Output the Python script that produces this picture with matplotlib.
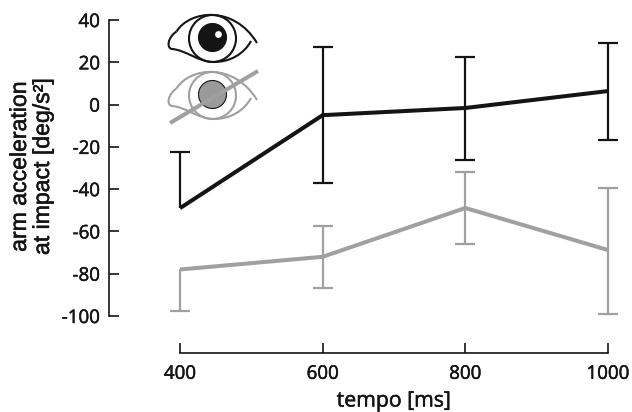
import numpy as np
import matplotlib
matplotlib.use("Agg")
import matplotlib.pyplot as plt
import matplotlib.patheffects as pe
from matplotlib.patches import Circle, Ellipse, PathPatch
from matplotlib.path import Path

plt.rcParams["font.family"] = ["Open Sans", "DejaVu Sans"]
plt.rcParams["axes.unicode_minus"] = False

tempo = [400, 600, 800, 1000]
yticks = [-100, -80, -60, -40, -20, 0, 20, 40]

black_mean = [-49, -5, -1.6, 6.4]
black_top = [-22.4, 27.3, 22.3, 29.3]
black_bottom = [np.nan, -37, -26, -16.8]

grey_mean = [-78, -72, -48.9, -68.8]
grey_top = [np.nan, -57.4, -31.9, -39.5]
grey_bottom = [-97.5, -86.8, -66, -99]

BLACK = "#141414"
GREY = "#a0a0a0"
W, H = 632, 412
# the reference text is a little heavier than the regular weights here
HEAVY = [pe.withStroke(linewidth=0.35, foreground=BLACK)]


def draw_series(ax, mean, top, bottom, color):
    mean, top, bottom = map(np.array, (mean, top, bottom))
    x = np.array(tempo)
    ax.vlines(x, np.where(np.isnan(bottom), mean, bottom), np.where(np.isnan(top), mean, top),
              color=color, linewidth=1.6, clip_on=False)
    ax.plot(x, top, "_", color=color, markersize=14, markeredgewidth=1.6, clip_on=False)
    ax.plot(x, bottom, "_", color=color, markersize=14, markeredgewidth=1.6, clip_on=False)
    ax.plot(x, mean, color=color, linewidth=2.9, solid_capstyle="butt", clip_on=False)


def draw_eye(ov, dy, color, iris_fill):
    # outline coordinates are in image pixels
    lw = 1.5
    ov.add_patch(PathPatch(Path(
        [(176.5, 31.5 + dy), (190, 10 + dy), (234, 5 + dy), (257, 43 + dy)],
        [Path.MOVETO, Path.CURVE4, Path.CURVE4, Path.CURVE4]),
        fill=False, edgecolor=color, linewidth=lw))
    ov.add_patch(PathPatch(Path(
        [(176.5, 31.5 + dy), (168, 37 + dy), (166, 48 + dy), (172, 49 + dy), (186, 50 + dy), (198, 62 + dy),
         (214, 62 + dy), (230, 62 + dy), (244, 54 + dy), (251, 41 + dy)],
        [Path.MOVETO, Path.CURVE4, Path.CURVE4, Path.CURVE4, Path.CURVE4, Path.CURVE4, Path.CURVE4,
         Path.CURVE4, Path.CURVE4, Path.CURVE4]),
        fill=False, edgecolor=color, linewidth=lw))
    ov.add_patch(Ellipse((212.5, 38.5 + dy), 47, 47, fill=False, edgecolor=color, linewidth=lw))
    ov.add_patch(Circle((212.5, 37.5 + dy), 14, facecolor=iris_fill, edgecolor=BLACK, linewidth=0.8))


fig = plt.figure(figsize=(W / 100, H / 100), dpi=100)

# axes placed so the spines land where the reference has them
left, right, bottom_px, top_px = 109, 625, 353, 10
ax = fig.add_axes([left / W, 1 - bottom_px / H, (right - left) / W, (bottom_px - top_px) / H])
ax.set_xlim(400 + (left - 180) / 0.7133, 400 + (right - 180) / 0.7133)
ax.set_ylim((104.6 - bottom_px) / 2.114, (104.6 - top_px) / 2.114)

draw_series(ax, grey_mean, grey_top, grey_bottom, GREY)
draw_series(ax, black_mean, black_top, black_bottom, BLACK)

ax.set_xticks(tempo)
ax.set_yticks(yticks)
ax.tick_params(axis="both", direction="in", length=7.2, width=1.2, color=BLACK, labelsize=13.5, labelcolor=BLACK)
ax.tick_params(axis="x", pad=8.5)
ax.tick_params(axis="y", pad=6.5)
for label in ax.get_xticklabels() + ax.get_yticklabels():
    label.set_path_effects(HEAVY)
for side in ("top", "right"):
    ax.spines[side].set_visible(False)
for side in ("left", "bottom"):
    ax.spines[side].set_linewidth(1.2)
    ax.spines[side].set_color(BLACK)
ax.spines["left"].set_bounds(-100, 40)
ax.spines["bottom"].set_bounds(400, 1000)
ax.patch.set_visible(False)

fig.text(394 / W, 1 - 401 / H, "tempo [ms]", ha="center", va="center", fontsize=15.3, color=BLACK,
         path_effects=HEAVY)
fig.text(31 / W, 1 - 167 / H, "arm acceleration\nat impact [deg/s²]", ha="center", va="center",
         rotation=90, fontsize=16.6, color=BLACK, linespacing=1.0, multialignment="center",
         family=["Liberation Sans", "DejaVu Sans"], path_effects=HEAVY)

# eye icons, drawn in image pixel coordinates
ov = fig.add_axes([0, 0, 1, 1])
ov.set_xlim(0, W)
ov.set_ylim(H, 0)
ov.axis("off")
ov.patch.set_visible(False)
draw_eye(ov, 0, BLACK, BLACK)
ov.add_patch(Circle((218.5, 34.5), 3.4, facecolor="white", edgecolor="none"))
draw_eye(ov, 57, GREY, "#9a9a9a")
ov.plot([170, 258], [123, 71], color=GREY, linewidth=2.9, solid_capstyle="butt")

fig.savefig("out.png", dpi=100)
